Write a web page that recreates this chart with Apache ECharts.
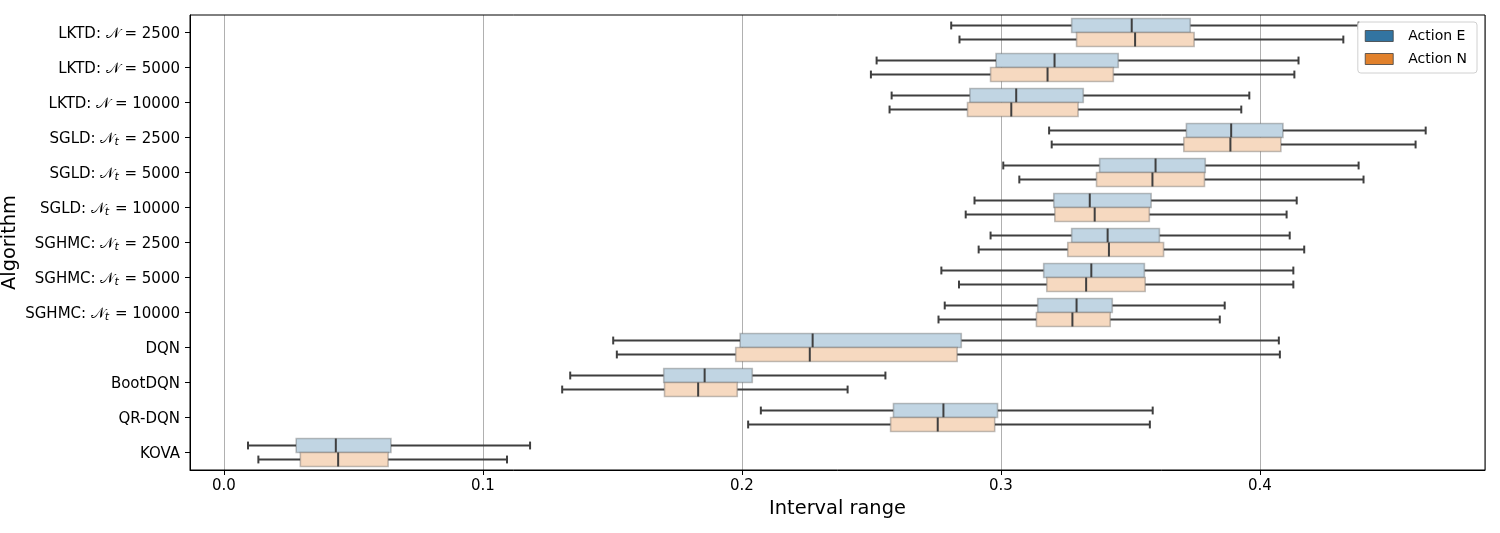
<!DOCTYPE html>
<html>
<head>
<meta charset="utf-8">
<script src="https://cdn.jsdelivr.net/npm/echarts@6/dist/echarts.min.js"></script>
<style>html,body{margin:0;padding:0;background:#fff}#c{width:1500px;height:533px}</style>
</head>
<body>
<div id="c"></div>
<script>
const categories = [
  'LKTD: 𝒩 = 2500', 'LKTD: 𝒩 = 5000', 'LKTD: 𝒩 = 10000',
  'SGLD: 𝒩ₜ = 2500', 'SGLD: 𝒩ₜ = 5000', 'SGLD: 𝒩ₜ = 10000',
  'SGHMC: 𝒩ₜ = 2500', 'SGHMC: 𝒩ₜ = 5000', 'SGHMC: 𝒩ₜ = 10000',
  'DQN', 'BootDQN', 'QR-DQN', 'KOVA'
];
// [whisker low, Q1, median, Q3, whisker high]
const actionE = [
  [0.2808, 0.3273, 0.3505, 0.3731, 0.4381],
  [0.2520, 0.2981, 0.3207, 0.3453, 0.4149],
  [0.2578, 0.2880, 0.3059, 0.3318, 0.3959],
  [0.3186, 0.3716, 0.3889, 0.4089, 0.4640],
  [0.3009, 0.3381, 0.3597, 0.3789, 0.4381],
  [0.2898, 0.3204, 0.3343, 0.3580, 0.4142],
  [0.2960, 0.3273, 0.3412, 0.3612, 0.4115],
  [0.2770, 0.3165, 0.3349, 0.3554, 0.4129],
  [0.2783, 0.3142, 0.3292, 0.3430, 0.3864],
  [0.1503, 0.1993, 0.2273, 0.2847, 0.4073],
  [0.1337, 0.1698, 0.1856, 0.2040, 0.2554],
  [0.2073, 0.2585, 0.2778, 0.2987, 0.3586],
  [0.0093, 0.0279, 0.0432, 0.0645, 0.1182]
];
const actionN = [
  [0.2840, 0.3292, 0.3518, 0.3746, 0.4322],
  [0.2498, 0.2960, 0.3180, 0.3434, 0.4133],
  [0.2570, 0.2871, 0.3040, 0.3298, 0.3928],
  [0.3196, 0.3706, 0.3886, 0.4081, 0.4601],
  [0.3071, 0.3369, 0.3585, 0.3786, 0.4400],
  [0.2864, 0.3208, 0.3362, 0.3573, 0.4103],
  [0.2914, 0.3258, 0.3417, 0.3628, 0.4171],
  [0.2838, 0.3177, 0.3329, 0.3557, 0.4129],
  [0.2759, 0.3137, 0.3276, 0.3422, 0.3845],
  [0.1517, 0.1976, 0.2262, 0.2831, 0.4077],
  [0.1306, 0.1701, 0.1831, 0.1982, 0.2408],
  [0.2024, 0.2574, 0.2756, 0.2976, 0.3575],
  [0.0133, 0.0295, 0.0441, 0.0634, 0.1093]
];
const seriesNames = ['Action E', 'Action N'];
const xTicks = [0.0, 0.1, 0.2, 0.3, 0.4];

const FONT = 'DejaVu Sans';
const palette = ['#3274a1', '#e1812c'];
const fills = ['#c1d5e3', '#f6d9c0'];

function makeRender(sIdx) {
  return function (params, api) {
    const cat = api.value(0);
    const lo = api.coord([api.value(1), cat]);
    const q1 = api.coord([api.value(2), cat]);
    const md = api.coord([api.value(3), cat]);
    const q3 = api.coord([api.value(4), cat]);
    const hi = api.coord([api.value(5), cat]);
    const band = api.size([0, 1])[1];
    const h = band * 0.4;
    const cy = lo[1] + (sIdx === 0 ? -h / 2 : h / 2);
    const cap = h * 0.28;
    const lineStyle = { stroke: '#3f3f3f', lineWidth: 2 };
    return {
      type: 'group',
      children: [
        { type: 'line', shape: { x1: lo[0], y1: cy, x2: q1[0], y2: cy }, style: lineStyle },
        { type: 'line', shape: { x1: q3[0], y1: cy, x2: hi[0], y2: cy }, style: lineStyle },
        { type: 'line', shape: { x1: lo[0], y1: cy - cap, x2: lo[0], y2: cy + cap }, style: lineStyle },
        { type: 'line', shape: { x1: hi[0], y1: cy - cap, x2: hi[0], y2: cy + cap }, style: lineStyle },
        { type: 'rect', shape: { x: q1[0], y: cy - h / 2, width: q3[0] - q1[0], height: h },
          style: { fill: fills[sIdx], stroke: 'rgba(63,63,63,0.32)', lineWidth: 1.6 } },
        { type: 'line', shape: { x1: md[0], y1: cy - h / 2, x2: md[0], y2: cy + h / 2 }, style: lineStyle }
      ]
    };
  };
}

function buildData(arr) {
  return arr.map((v, i) => [i].concat(v));
}

function fmtCat(s) {
  if (s.indexOf('ₜ') >= 0) {
    const parts = s.split('ₜ');
    return parts[0] + '{sub|t}' + parts[1];
  }
  return s;
}

const chart = echarts.init(document.getElementById('c'), null, { renderer: 'canvas' });
chart.setOption({
  animation: false,
  backgroundColor: '#fff',
  textStyle: { fontFamily: FONT },
  grid: { left: 190, right: 15, top: 15, bottom: 63, outerBoundsMode: 'none', containLabel: false,
          show: true, borderColor: '#000', borderWidth: 1, backgroundColor: 'transparent', z: 5 },
  legend: {
    data: seriesNames,
    orient: 'vertical',
    right: 23, top: 22,
    backgroundColor: '#fff',
    borderColor: '#d0d0d0', borderWidth: 1, borderRadius: 3,
    padding: [6, 10, 6, 7],
    itemWidth: 28, itemHeight: 11, itemGap: 7,
    icon: 'rect',
    itemStyle: { borderColor: '#3f3f3f', borderWidth: 0.8 },
    textStyle: { fontFamily: FONT, fontSize: 14, color: '#000', lineHeight: 16, padding: [0, 0, 0, 10] },
    z: 20
  },
  xAxis: {
    type: 'value',
    min: -0.0131, max: 0.4869,
    splitNumber: 5,
    name: 'Interval range',
    nameLocation: 'middle',
    nameGap: 29,
    nameMoveOverlap: false,
    nameTextStyle: { fontFamily: FONT, fontSize: 19.4, color: '#000' },
    axisLine: { show: true, onZero: false, lineStyle: { color: '#000', width: 1 } },
    axisTick: { show: true, length: 5, lineStyle: { color: '#000' } },
    axisLabel: {
      fontFamily: FONT, fontSize: 15, color: '#000', margin: 9,
      showMinLabel: false, showMaxLabel: false,
      formatter: function (v) {
        for (const t of xTicks) { if (Math.abs(v - t) < 1e-9) return t.toFixed(1); }
        return '';
      }
    },
    splitLine: { show: true, lineStyle: { color: '#b0b0b0', width: 1 } }
  },
  yAxis: {
    type: 'category',
    data: categories,
    inverse: true,
    name: 'Algorithm',
    nameLocation: 'middle',
    nameGap: 171,
    nameMoveOverlap: false,
    nameRotate: 90,
    nameTextStyle: { fontFamily: FONT, fontSize: 19.4, color: '#000' },
    axisLine: { show: true, onZero: false, lineStyle: { color: '#000', width: 1 } },
    axisTick: { show: true, alignWithLabel: true, length: 5, lineStyle: { color: '#000' } },
    axisLabel: {
      fontFamily: FONT, fontSize: 15, color: '#000', margin: 10, interval: 0,
      padding: [3, 0, 0, 0],
      formatter: fmtCat,
      rich: {
        sub: { fontFamily: FONT, fontSize: 11, fontStyle: 'italic', color: '#000', padding: [7, 1, 0, 0] }
      }
    },
    splitLine: { show: false }
  },
  series: [
    {
      name: seriesNames[0], type: 'custom', color: palette[0],
      itemStyle: { color: palette[0] },
      renderItem: makeRender(0),
      encode: { x: [1, 2, 3, 4, 5], y: 0 },
      data: buildData(actionE), z: 3
    },
    {
      name: seriesNames[1], type: 'custom', color: palette[1],
      itemStyle: { color: palette[1] },
      renderItem: makeRender(1),
      encode: { x: [1, 2, 3, 4, 5], y: 0 },
      data: buildData(actionN), z: 3
    }
  ]
});
</script>
</body>
</html>
